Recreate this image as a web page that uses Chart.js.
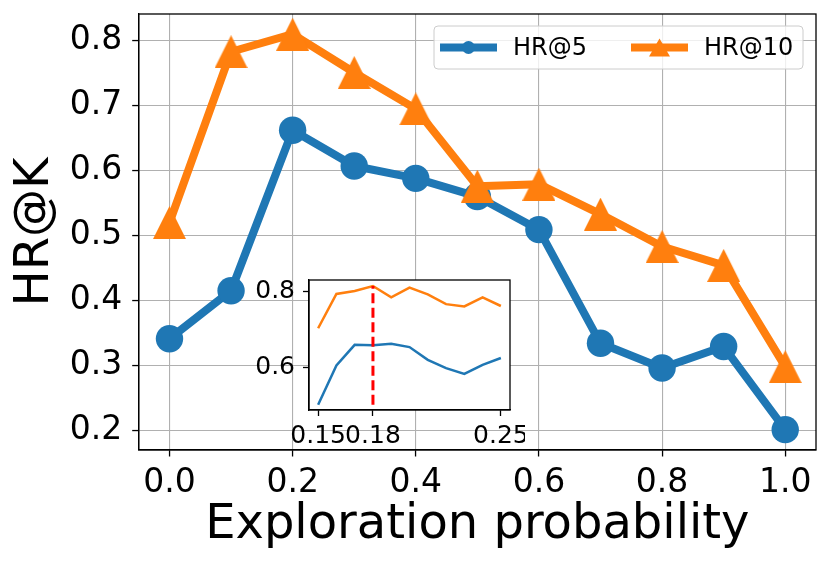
<!DOCTYPE html>
<html>
<head>
<meta charset="utf-8">
<script src="https://cdn.jsdelivr.net/npm/chart.js@4.4.1/dist/chart.umd.min.js"></script>
<style>
  body { margin: 0; background: #fff; }
  #wrap { position: relative; width: 830px; height: 567px; }
  #main { position: absolute; left: 0; top: 0; }
  #inset { position: absolute; left: 250px; top: 270px; }
</style>
</head>
<body>
<div id="wrap">
  <canvas id="main" width="830" height="567"></canvas>
  <canvas id="inset" width="275" height="180"></canvas>
</div>
<script>
// main plot
var probs = [0.0, 0.1, 0.2, 0.3, 0.4, 0.5, 0.6, 0.7, 0.8, 0.9, 1.0];
var hr5 = [0.341, 0.415, 0.662, 0.607, 0.588, 0.560, 0.509, 0.334, 0.296, 0.329, 0.201];
var hr10 = [0.520, 0.783, 0.810, 0.751, 0.695, 0.576, 0.579, 0.533, 0.483, 0.454, 0.298];
var xTicks = [0.0, 0.2, 0.4, 0.6, 0.8, 1.0];
var yTicks = [0.2, 0.3, 0.4, 0.5, 0.6, 0.7, 0.8];

// zoomed inset around the best value
var insetProbs = [0.15, 0.16, 0.17, 0.18, 0.19, 0.20, 0.21, 0.22, 0.23, 0.24, 0.25];
var insetHr5 = [0.500, 0.604, 0.659, 0.658, 0.662, 0.653, 0.619, 0.597, 0.582, 0.606, 0.624];
var insetHr10 = [0.703, 0.794, 0.802, 0.815, 0.785, 0.811, 0.793, 0.767, 0.761, 0.785, 0.762];
var insetXTicks = [0.15, 0.18, 0.25];
var insetYTicks = [0.6, 0.8];
var bestProb = 0.18;
var bestRange = [0.5, 0.815];

var BLUE = '#1f77b4';
var ORANGE = '#ff7f0e';
var FONT = "'DejaVu Sans', sans-serif";

function pts(xs, ys) {
    return xs.map(function (x, i) { return { x: x, y: ys[i] }; });
}

// matplotlib style '^' marker (as wide as it is tall)
function triangle(size, color) {
    var c = document.createElement('canvas');
    c.width = size; c.height = size;
    var g = c.getContext('2d');
    g.fillStyle = color;
    g.beginPath();
    g.moveTo(size / 2, 0);
    g.lineTo(size, size);
    g.lineTo(0, size);
    g.closePath();
    g.fill();
    return c;
}

// fixed axis box: no extra room for overhanging tick labels
function fixSize(w, h) {
    return function (s) {
        if (w) s.width = w;
        if (h) s.height = h;
        s.paddingLeft = 0; s.paddingRight = 0;
        s.paddingTop = 0; s.paddingBottom = 0;
    };
}

var frame = {
    id: 'frame',
    beforeDraw: function (chart, args, opts) {
        if (!opts.fill) return;
        var a = chart.chartArea, ctx = chart.ctx;
        ctx.save();
        ctx.fillStyle = opts.fill;
        ctx.fillRect(a.left, a.top, a.right - a.left, a.bottom - a.top);
        ctx.restore();
    },
    afterDatasetsDraw: function (chart, args, opts) {
        var a = chart.chartArea, ctx = chart.ctx;
        ctx.save();
        ctx.strokeStyle = '#000';
        ctx.lineWidth = opts.width || 1.3;
        ctx.strokeRect(a.left, a.top, a.right - a.left, a.bottom - a.top);
        ctx.restore();
    }
};

// legend box in the upper right, line + marker like matplotlib
var legendBox = {
    id: 'legendBox',
    afterDraw: function (chart) {
        var a = chart.chartArea, ctx = chart.ctx;
        var right = a.right - 13, top = a.top + 12, w = 369, h = 43;
        var left = right - w, cy = top + h / 2;
        ctx.save();
        ctx.beginPath();
        ctx.roundRect(left, top, w, h, 4);
        ctx.fillStyle = 'rgba(255,255,255,0.8)';
        ctx.fill();
        ctx.strokeStyle = '#cccccc';
        ctx.lineWidth = 1;
        ctx.stroke();

        ctx.font = '24px ' + FONT;
        ctx.textBaseline = 'middle';
        ctx.fillStyle = '#000';
        var items = [
            { x: left + 6, label: chart.data.datasets[1].label, color: BLUE, mark: 'circle' },
            { x: left + 197, label: chart.data.datasets[0].label, color: ORANGE, mark: 'tri' }
        ];
        items.forEach(function (it) {
            ctx.strokeStyle = it.color;
            ctx.lineWidth = 8;
            ctx.beginPath();
            ctx.moveTo(it.x, cy);
            ctx.lineTo(it.x + 57, cy);
            ctx.stroke();
            ctx.fillStyle = it.color;
            ctx.beginPath();
            if (it.mark === 'circle') {
                ctx.arc(it.x + 28.5, cy, 6.5, 0, Math.PI * 2);
            } else {
                ctx.moveTo(it.x + 28.5, cy - 9);
                ctx.lineTo(it.x + 39, cy + 9);
                ctx.lineTo(it.x + 18, cy + 9);
                ctx.closePath();
            }
            ctx.fill();
            ctx.fillStyle = '#000';
            ctx.fillText(it.label, it.x + 73, cy + 1);
        });
        ctx.restore();
    }
};

const mainChart = new Chart(document.getElementById('main'), {
    type: 'line',
    data: {
        datasets: [{
            label: 'HR@10',
            data: pts(probs, hr10),
            borderColor: ORANGE,
            backgroundColor: ORANGE,
            borderWidth: 8,
            borderJoinStyle: 'round',
            pointStyle: triangle(33, ORANGE),
            pointRadius: 16,
            order: 0
        }, {
            label: 'HR@5',
            data: pts(probs, hr5),
            borderColor: BLUE,
            backgroundColor: BLUE,
            borderWidth: 8,
            borderJoinStyle: 'round',
            pointStyle: 'circle',
            pointRadius: 13.7,
            pointBorderWidth: 0,
            order: 1
        }]
    },
    options: {
        responsive: false,
        devicePixelRatio: 1,
        animation: false,
        clip: false,
        layout: { autoPadding: false, padding: { top: 14, right: 14, left: 0, bottom: 0 } },
        plugins: {
            legend: { display: false },
            tooltip: { enabled: false },
            frame: { width: 1.3 }
        },
        scales: {
            x: {
                type: 'linear',
                min: -0.05,
                max: 1.05,
                afterBuildTicks: function (s) { s.ticks = xTicks.map(function (v) { return { value: v }; }); },
                afterFit: fixSize(0, 117),
                ticks: {
                    font: { family: FONT, size: 33 },
                    color: '#000',
                    padding: 7,
                    maxRotation: 0,
                    autoSkip: false,
                    callback: function (v) { return v.toFixed(1); }
                },
                grid: { color: '#b0b0b0', lineWidth: 1.1, tickLength: 6.5, tickColor: '#000', tickWidth: 1.3 },
                border: { color: '#000', width: 1.3 },
                title: {
                    display: true,
                    text: 'Exploration probability',
                    font: { family: FONT, size: 48 },
                    color: '#000',
                    padding: { top: 0, bottom: 13 }
                }
            },
            y: {
                min: 0.1697,
                max: 0.8411,
                afterBuildTicks: function (s) { s.ticks = yTicks.map(function (v) { return { value: v }; }); },
                afterFit: fixSize(138.7, 0),
                ticks: {
                    font: { family: FONT, size: 33 },
                    color: '#000',
                    padding: 10,
                    autoSkip: false,
                    callback: function (v) { return v.toFixed(1); }
                },
                grid: { color: '#b0b0b0', lineWidth: 1.1, tickLength: 6.5, tickColor: '#000', tickWidth: 1.3 },
                border: { color: '#000', width: 1.3 },
                title: {
                    display: true,
                    text: 'HR@K',
                    font: { family: FONT, size: 48 },
                    color: '#000',
                    padding: { top: 7, bottom: 0 }
                }
            }
        }
    },
    plugins: [frame, legendBox]
});

const insetChart = new Chart(document.getElementById('inset'), {
    type: 'line',
    data: {
        datasets: [{
            label: 'best',
            data: [{ x: bestProb, y: bestRange[0] }, { x: bestProb, y: bestRange[1] }],
            borderColor: '#ff0000',
            borderWidth: 3,
            borderDash: [10, 4.5],
            pointRadius: 0,
            order: 0
        }, {
            label: 'HR@10',
            data: pts(insetProbs, insetHr10),
            borderColor: ORANGE,
            borderWidth: 2.5,
            pointRadius: 0,
            order: 1
        }, {
            label: 'HR@5',
            data: pts(insetProbs, insetHr5),
            borderColor: BLUE,
            borderWidth: 2.5,
            pointRadius: 0,
            order: 2
        }]
    },
    options: {
        responsive: false,
        devicePixelRatio: 1,
        animation: false,
        layout: { autoPadding: false, padding: { top: 10, right: 15, left: 0, bottom: 0 } },
        plugins: {
            legend: { display: false },
            tooltip: { enabled: false },
            frame: { width: 1.3, fill: '#fff' }
        },
        scales: {
            x: {
                type: 'linear',
                min: 0.145,
                max: 0.255,
                afterBuildTicks: function (s) { s.ticks = insetXTicks.map(function (v) { return { value: v }; }); },
                afterFit: fixSize(0, 40),
                ticks: {
                    font: { family: FONT, size: 25 },
                    color: '#000',
                    padding: 5,
                    maxRotation: 0,
                    autoSkip: false,
                    callback: function (v) { return v.toFixed(2); }
                },
                grid: { drawOnChartArea: false, tickLength: 6, tickColor: '#000', tickWidth: 1.3 },
                border: { color: '#000', width: 1.3 }
            },
            y: {
                min: 0.486,
                max: 0.831,
                afterBuildTicks: function (s) { s.ticks = insetYTicks.map(function (v) { return { value: v }; }); },
                afterFit: fixSize(59, 0),
                ticks: {
                    font: { family: FONT, size: 25 },
                    color: '#000',
                    padding: 8,
                    autoSkip: false,
                    callback: function (v) { return v.toFixed(1); }
                },
                grid: { drawOnChartArea: false, tickLength: 6, tickColor: '#000', tickWidth: 1.3 },
                border: { color: '#000', width: 1.3 }
            }
        }
    },
    plugins: [frame]
});
</script>
</body>
</html>
